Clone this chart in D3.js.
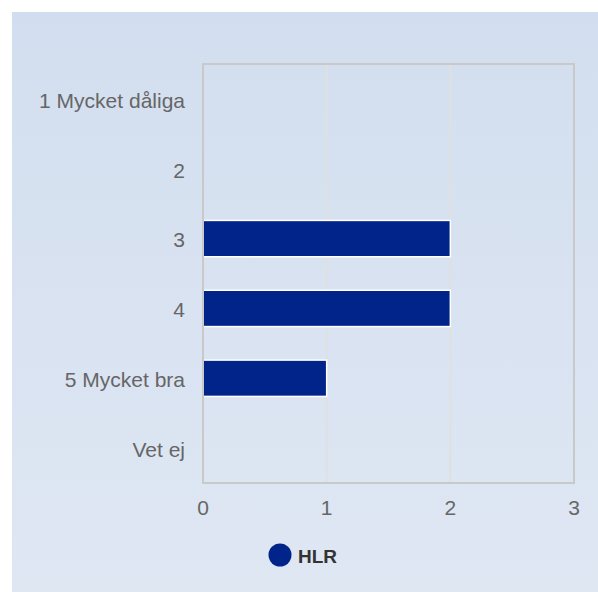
<!DOCTYPE html>
<html>
<head>
<meta charset="utf-8">
<script src="https://cdn.jsdelivr.net/npm/d3@7"></script>
<style>
  body { margin: 0; background: #fff; }
  text { font-family: "Liberation Sans", Arial, sans-serif; }
</style>
</head>
<body>
<svg width="598" height="592"></svg>
<script>

let categories = ['1 Mycket dåliga', '2', '3', '4', '5 Mycket bra', 'Vet ej']
let values = [0, 0, 2, 2, 1, 0]
let xTicks = [0, 1, 2, 3]
let seriesName = 'HLR'

let svg = d3.select('svg')

let defs = svg.append('defs')
let grad = defs.append('linearGradient')
  .attr('id', 'bg')
  .attr('x1', 0).attr('y1', 0).attr('x2', 0).attr('y2', 1)
grad.append('stop').attr('offset', '0%').attr('stop-color', '#d2deef')
grad.append('stop').attr('offset', '100%').attr('stop-color', '#dfe7f3')

svg.append('rect')
  .attr('x', 12).attr('y', 12)
  .attr('width', 586).attr('height', 580)
  .attr('fill', 'url(#bg)')

let plotLeft = 203, plotRight = 574, plotTop = 64, plotBottom = 483

let x = d3.scaleLinear().domain([0, 3]).range([plotLeft, plotRight])
let y = d3.scaleBand().domain(categories).range([plotTop, plotBottom])
  .paddingInner(0.48).paddingOuter(0.24)

let rows = categories.map((c, i) => ({ cat: c, value: values[i] }))

// gridlines
svg.append('g')
  .selectAll('line')
  .data(xTicks.filter(d => d > 0 && d < 3))
  .enter().append('line')
  .attr('x1', d => x(d)).attr('x2', d => x(d))
  .attr('y1', plotTop).attr('y2', plotBottom)
  .attr('stroke', '#e0e0e0')
  .attr('stroke-width', 2)

// bars
svg.append('g')
  .selectAll('rect')
  .data(rows.filter(d => d.value > 0))
  .enter().append('rect')
  .attr('x', x(0))
  .attr('y', d => y(d.cat))
  .attr('width', d => x(d.value) - x(0))
  .attr('height', y.bandwidth())
  .attr('fill', '#00248a')
  .attr('stroke', '#fff')
  .attr('stroke-width', 1.5)

// plot border
svg.append('rect')
  .attr('x', plotLeft).attr('y', plotTop)
  .attr('width', plotRight - plotLeft).attr('height', plotBottom - plotTop)
  .attr('fill', 'none')
  .attr('stroke', '#c9c9c9')
  .attr('stroke-width', 2)

// y labels
svg.append('g')
  .selectAll('text')
  .data(categories)
  .enter().append('text')
  .attr('x', 185)
  .attr('y', d => y(d) + y.bandwidth() / 2)
  .attr('dy', '0.42em')
  .attr('text-anchor', 'end')
  .attr('font-size', 21)
  .attr('fill', '#666')
  .text(d => d)

// x labels
svg.append('g')
  .selectAll('text')
  .data(xTicks)
  .enter().append('text')
  .attr('x', d => x(d))
  .attr('y', 515)
  .attr('text-anchor', 'middle')
  .attr('font-size', 21)
  .attr('fill', '#666')
  .text(d => d)

// legend
let legend = svg.append('g')
legend.append('circle')
  .attr('cx', 280).attr('cy', 555).attr('r', 11.5)
  .attr('fill', '#00248a')
legend.append('text')
  .attr('x', 298).attr('y', 563)
  .attr('font-size', 19)
  .attr('font-weight', 'bold')
  .attr('fill', '#333')
  .text(seriesName)

</script>
</body>
</html>
